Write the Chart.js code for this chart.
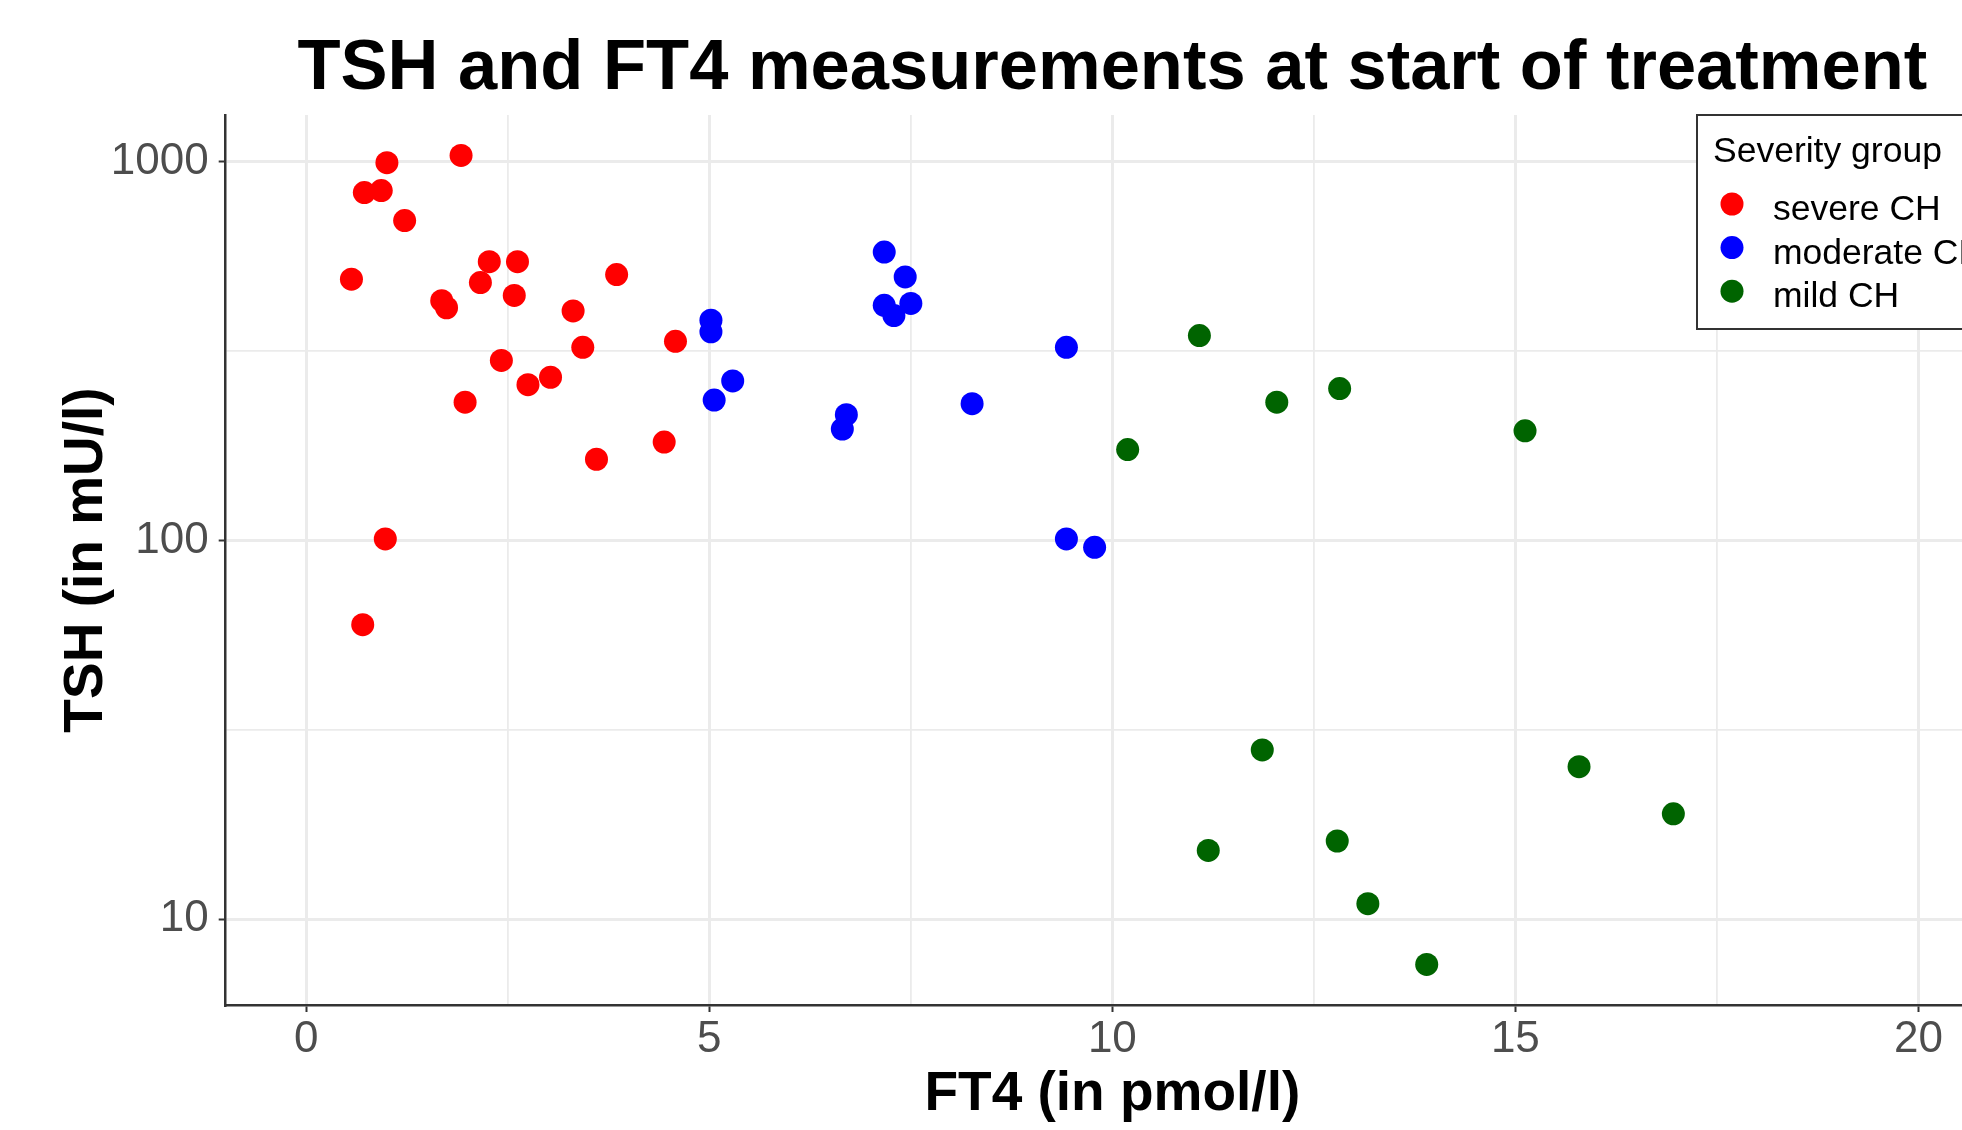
<!DOCTYPE html>
<html>
<head>
<meta charset="utf-8">
<script src="https://cdn.jsdelivr.net/npm/chart.js@4.4.1/dist/chart.umd.min.js"></script>
<style>
  html, body { margin: 0; padding: 0; overflow: hidden; background: #fff; }
  #wrap { width: 2020px; height: 1130px; }
</style>
</head>
<body>
<div id="wrap"><canvas id="chart" width="2020" height="1130"></canvas></div>
<script>
// data (FT4 in pmol/l, TSH in mU/l)
const groups = ['severe CH', 'moderate CH', 'mild CH'];
const groupColors = ['#ff0000', '#0000ff', '#006400'];

const severeFT4 = [1.00, 1.92, 0.72, 0.93, 1.22, 0.56, 2.27, 2.62, 2.16, 1.68, 1.74, 2.58,
                   3.85, 3.31, 3.43, 4.58, 2.42, 3.03, 2.75, 1.97, 4.44, 3.60, 0.98, 0.70];
const severeTSH = [995, 1040, 830, 840, 700, 490, 545, 545, 480, 430, 412, 444,
                   504, 404, 324, 336, 299, 270, 258, 232, 182, 164, 101, 60];

const moderateFT4 = [5.02, 5.02, 5.29, 5.06, 7.17, 7.43, 7.17, 7.29, 7.50, 6.70, 6.65, 8.26, 9.43, 9.43, 9.78];
const moderateTSH = [382, 356, 264, 235, 578, 497, 418, 393, 423, 215, 197, 230, 324, 101, 96];

const mildFT4 = [11.08, 12.04, 12.82, 10.19, 15.12, 11.86, 15.79, 16.96, 11.19, 12.79, 13.17, 13.90];
const mildTSH = [348, 232, 252, 174, 195, 28, 25.3, 19, 15.2, 16.1, 11, 7.6];

const xTicks = [0, 2.5, 5, 7.5, 10, 12.5, 15, 17.5, 20];
const xLabels = [0, 5, 10, 15, 20];
const yTicks = [10, 31.62, 100, 316.2, 1000];
const yLabels = [10, 100, 1000];

const FONT = '"Liberation Sans", Arial, sans-serif';

function toPoints(xs, ys) {
    return xs.map((x, i) => ({ x: x, y: ys[i] }));
}

const seriesX = [severeFT4, moderateFT4, mildFT4];
const seriesY = [severeTSH, moderateTSH, mildTSH];

const datasets = groups.map((g, i) => ({
    label: g,
    data: toPoints(seriesX[i], seriesY[i]),
    backgroundColor: groupColors[i],
    borderWidth: 0,
    pointRadius: 11.5,
    pointHoverRadius: 11.5
}));

// ggplot style legend box in the top right corner of the panel
const legendBox = {
    id: 'legendBox',
    afterDraw(chart) {
        const ctx = chart.ctx;
        const area = chart.chartArea;
        const left = area.right - 302;
        const top = area.top;
        ctx.save();
        ctx.fillStyle = '#fff';
        ctx.fillRect(left, top, 300, 214);
        ctx.strokeStyle = '#333';
        ctx.lineWidth = 2;
        ctx.strokeRect(left, top, 300, 214);
        ctx.font = '35.5px ' + FONT;
        ctx.textBaseline = 'alphabetic';
        ctx.fillStyle = '#000';
        ctx.fillText('Severity group', left + 16, top + 47);
        chart.data.datasets.forEach((ds, i) => {
            const y = top + 89 + i * 43.6;
            ctx.beginPath();
            ctx.arc(left + 35, y, 11.5, 0, Math.PI * 2);
            ctx.fillStyle = ds.backgroundColor;
            ctx.fill();
            ctx.fillStyle = '#000';
            ctx.fillText(ds.label, left + 76, y + 16);
        });
        ctx.restore();
    }
};

const ctx = document.getElementById('chart').getContext('2d');
new Chart(ctx, {
    type: 'scatter',
    data: { datasets: datasets },
    plugins: [legendBox],
    options: {
        responsive: false,
        animation: false,
        events: [],
        layout: { padding: { left: 0, top: 0, bottom: 0, right: 21 } },
        plugins: {
            legend: { display: false },
            tooltip: { enabled: false },
            title: {
                display: true,
                text: 'TSH and FT4 measurements at start of treatment',
                fullSize: false,
                color: '#000',
                font: { family: FONT, size: 70.5, weight: 'bold' },
                padding: { top: 27, bottom: 3.4 }
            }
        },
        scales: {
            x: {
                type: 'linear',
                min: -1,
                max: 21,
                afterBuildTicks: (scale) => { scale.ticks = xTicks.map(v => ({ value: v })); },
                afterFit: (scale) => { scale.height = 125; },
                ticks: {
                    autoSkip: false,
                    maxRotation: 0,
                    padding: 1,
                    color: '#4d4d4d',
                    font: { family: FONT, size: 44 },
                    callback: (v) => xLabels.includes(v) ? String(v) : ''
                },
                grid: {
                    color: '#ebebeb',
                    lineWidth: (c) => xLabels.includes(c.tick && c.tick.value) ? 3 : 1.8,
                    tickLength: 7,
                    tickWidth: 2,
                    tickColor: (c) => xLabels.includes(c.tick && c.tick.value) ? '#333' : 'rgba(0,0,0,0)'
                },
                border: { display: true, color: '#333', width: 2.5 },
                title: {
                    display: true,
                    text: 'FT4 (in pmol/l)',
                    color: '#000',
                    font: { family: FONT, size: 55, weight: 'bold' },
                    padding: { top: 0, bottom: 2 }
                }
            },
            y: {
                type: 'logarithmic',
                min: 5.94,
                max: 1330,
                afterBuildTicks: (scale) => { scale.ticks = yTicks.map(v => ({ value: v })); },
                afterFit: (scale) => { scale.width = 225.7; },
                ticks: {
                    autoSkip: false,
                    padding: 10,
                    color: '#4d4d4d',
                    font: { family: FONT, size: 44 },
                    callback: (v) => yLabels.includes(v) ? String(v) : ''
                },
                grid: {
                    color: '#ebebeb',
                    lineWidth: (c) => yLabels.includes(c.tick && c.tick.value) ? 3 : 1.8,
                    tickLength: 7,
                    tickWidth: 2,
                    tickColor: (c) => yLabels.includes(c.tick && c.tick.value) ? '#333' : 'rgba(0,0,0,0)'
                },
                border: { display: true, color: '#333', width: 2.5 },
                title: {
                    display: true,
                    text: 'TSH (in mU/l)',
                    color: '#000',
                    font: { family: FONT, size: 55, weight: 'bold' },
                    padding: { top: 54, bottom: 0 }
                }
            }
        }
    }
});
</script>
</body>
</html>
